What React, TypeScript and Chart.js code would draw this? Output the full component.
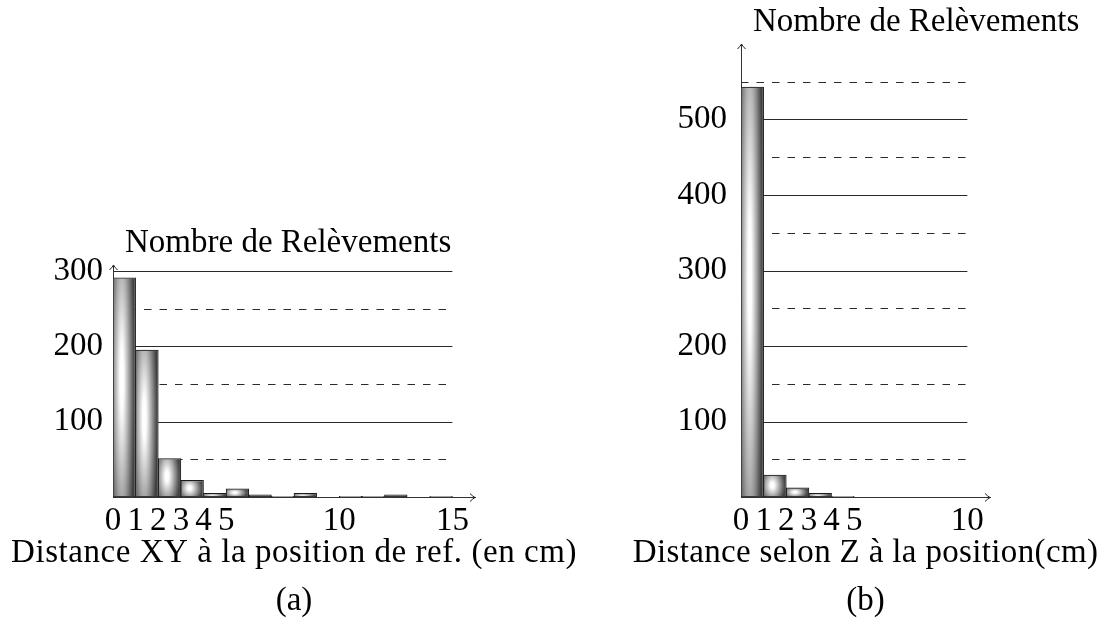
import React, { useEffect, useRef } from 'react';
import { Chart, registerables } from 'chart.js';

Chart.register(...registerables);

const FONT = '"Liberation Serif", "Times New Roman", serif';

// ---- (a) Distance XY ----
const binsA = [0, 1, 2, 3, 4, 5, 6, 7, 8, 9, 10, 11, 12, 13, 14];
const countsA = [291, 195, 51, 22, 5, 11, 3, 1, 5, 0, 1, 1, 3, 0, 1];
const xTicksA = [0, 1, 2, 3, 4, 5, 10, 15];
const yTicksA = [100, 200, 300];
const gridSolidA = [100, 200, 300];
const gridDashedA = [50, 150, 250];

// ---- (b) Distance Z ----
const binsB = [0, 1, 2, 3, 4];
const countsB = [543, 29, 12, 5, 1];
const xTicksB = [0, 1, 2, 3, 4, 5, 10];
const yTicksB = [100, 200, 300, 400, 500];
const gridSolidB = [100, 200, 300, 400, 500];
const gridDashedB = [50, 150, 250, 350, 450, 550];

const yTitle = 'Nombre de Relèvements';
const xTitleA = 'Distance XY à la position de ref. (en cm)';
const xTitleB = 'Distance selon Z à la position(cm)';
const captionA = '(a)';
const captionB = '(b)';

function shade(ctx: CanvasRenderingContext2D, l: number, t: number, w: number, h: number) {
  if (w <= 0 || h <= 0) return;
  ctx.save();
  ctx.beginPath();
  ctx.rect(l, t, w, h);
  ctx.clip();
  ctx.translate(l + w / 2, t + h / 2);
  ctx.scale(w / 2, (h / 2) * 1.6);
  const g = ctx.createRadialGradient(-0.25, -0.05, 0, -0.25, -0.05, 1.25);
  g.addColorStop(0, '#ffffff');
  g.addColorStop(0.15, '#fcfcfc');
  g.addColorStop(0.5, '#b0b0b0');
  g.addColorStop(0.8, '#6c6c6c');
  g.addColorStop(1, '#404040');
  ctx.fillStyle = g;
  ctx.fillRect(-2, -2, 4, 4);
  ctx.restore();
}

const decor = {
  id: 'decor',
  beforeDatasetsDraw(chart: any, _args: any, opts: any) {
    const { ctx } = chart;
    const xs = chart.scales.x;
    const ys = chart.scales.y;
    const x0 = xs.getPixelForValue(0);
    const x1 = xs.getPixelForValue(opts.gridEnd);
    ctx.save();
    ctx.strokeStyle = '#2a2a2a';
    ctx.lineWidth = 1;
    const draw = (vals: number[], dash: number[]) => {
      ctx.setLineDash(dash);
      for (const v of vals) {
        const y = Math.round(ys.getPixelForValue(v)) + 0.5;
        ctx.beginPath();
        ctx.moveTo(x0, y);
        ctx.lineTo(x1, y);
        ctx.stroke();
      }
    };
    draw(opts.solid, []);
    draw(opts.dashed, [7.5, 8]);
    ctx.restore();
  },
  afterDatasetsDraw(chart: any) {
    const { ctx } = chart;
    const meta = chart.getDatasetMeta(0);
    const bw = 1;
    for (const el of meta.data) {
      const { x, y, base, width } = el.getProps(['x', 'y', 'base', 'width'], true);
      const left = x - width / 2;
      const top = Math.min(y, base);
      const h = Math.abs(base - y);
      shade(ctx, left + bw, top + bw, width - 2 * bw, h - 2 * bw);
    }
  },
  afterDraw(chart: any, _args: any, opts: any) {
    const { ctx, chartArea } = chart;
    const { left, right, top, bottom } = chartArea;
    ctx.save();
    ctx.strokeStyle = '#222';
    ctx.lineWidth = 1;
    // arrow heads
    const xa = Math.round(bottom) + 0.5;
    ctx.beginPath();
    ctx.moveTo(right - 5, xa - 4);
    ctx.quadraticCurveTo(right - 2, xa - 1, right, xa);
    ctx.quadraticCurveTo(right - 2, xa + 1, right - 5, xa + 4);
    ctx.stroke();
    const ya = Math.round(left) + 0.5;
    ctx.beginPath();
    ctx.moveTo(ya - 4, top + 5);
    ctx.quadraticCurveTo(ya - 1, top + 2, ya, top);
    ctx.quadraticCurveTo(ya + 1, top + 2, ya + 4, top + 5);
    ctx.stroke();
    // texts
    ctx.fillStyle = '#000';
    ctx.font = `33px ${FONT}`;
    ctx.textBaseline = 'middle';
    ctx.textAlign = 'left';
    ctx.fillText(opts.yTitle, left + 12, top - 22);
    ctx.textAlign = 'center';
    const cx = (left + right) / 2;
    (ctx as any).letterSpacing = opts.xSpacing;
    ctx.fillText(opts.xTitle, cx, bottom + 56);
    (ctx as any).letterSpacing = '0px';
    ctx.fillText(opts.caption, cx, bottom + 104);
    ctx.restore();
  },
};

function makeConfig(p: any): any {
  const tickFont = { size: 33, family: FONT };
  return {
    type: 'bar',
    data: {
      datasets: [
        {
          data: p.counts.map((c: number, i: number) => ({ x: p.bins[i] + 0.5, y: c })),
          backgroundColor: '#999999',
          borderColor: '#1a1a1a',
          borderWidth: 1,
          borderSkipped: false,
          barPercentage: 1,
          categoryPercentage: 1,
        },
      ],
    },
    options: {
      responsive: false,
      animation: false,
      events: [],
      layout: { padding: { left: 0, top: p.padTop, right: p.padRight, bottom: 0 } },
      plugins: {
        legend: { display: false },
        tooltip: { enabled: false },
        decor: {
          solid: p.solid,
          dashed: p.dashed,
          gridEnd: p.gridEnd,
          yTitle,
          xTitle: p.xTitle,
          xSpacing: p.xSpacing,
          caption: p.caption,
        },
      },
      scales: {
        x: {
          type: 'linear',
          min: 0,
          max: p.xMax,
          bounds: 'data',
          offset: false,
          grid: { display: false, drawTicks: false },
          border: { display: true, color: '#333', width: 1 },
          afterBuildTicks: (s: any) => {
            s.ticks = p.xTicks.map((v: number) => ({ value: v }));
          },
          afterFit: (s: any) => {
            s.height = 129;
          },
          ticks: { autoSkip: false, maxRotation: 0, minRotation: 0, padding: 5, color: '#000', font: tickFont },
        },
        y: {
          type: 'linear',
          min: 0,
          max: p.yMax,
          bounds: 'data',
          grid: { display: false, drawTicks: false },
          border: { display: true, color: '#333', width: 1 },
          afterBuildTicks: (s: any) => {
            s.ticks = p.yTicks.map((v: number) => ({ value: v }));
          },
          afterFit: (s: any) => {
            s.width = p.yWidth;
          },
          ticks: { padding: p.yPad, color: '#000', font: tickFont },
        },
      },
    },
    plugins: [decor],
  };
}

export default function App() {
  const refA = useRef<HTMLCanvasElement>(null);
  const refB = useRef<HTMLCanvasElement>(null);
  useEffect(() => {
    const a = new Chart(
      refA.current!,
      makeConfig({
        bins: binsA,
        counts: countsA,
        xTicks: xTicksA,
        yTicks: yTicksA,
        solid: gridSolidA,
        dashed: gridDashedA,
        gridEnd: 15,
        xMax: 16,
        yMax: 308,
        padTop: 265,
        padRight: 105,
        yWidth: 113,
        yPad: 10,
        xTitle: xTitleA,
        xSpacing: '0.55px',
        caption: captionA,
      })
    );
    const b = new Chart(
      refB.current!,
      makeConfig({
        bins: binsB,
        counts: countsB,
        xTicks: xTicksB,
        yTicks: yTicksB,
        solid: gridSolidB,
        dashed: gridDashedB,
        gridEnd: 10,
        xMax: 11,
        yMax: 600,
        padTop: 44,
        padRight: 112,
        yWidth: 161,
        yPad: 14,
        xTitle: xTitleB,
        xSpacing: '0.35px',
        caption: captionB,
      })
    );
    return () => {
      a.destroy();
      b.destroy();
    };
  }, []);
  return (
    <div style={{ position: 'fixed', left: 0, top: 0, width: 1102, height: 626, background: '#fff' }}>
      <canvas ref={refA} width={580} height={626} style={{ position: 'absolute', left: 0, top: 0 }} />
      <canvas ref={refB} width={522} height={626} style={{ position: 'absolute', left: 580, top: 0 }} />
    </div>
  );
}
